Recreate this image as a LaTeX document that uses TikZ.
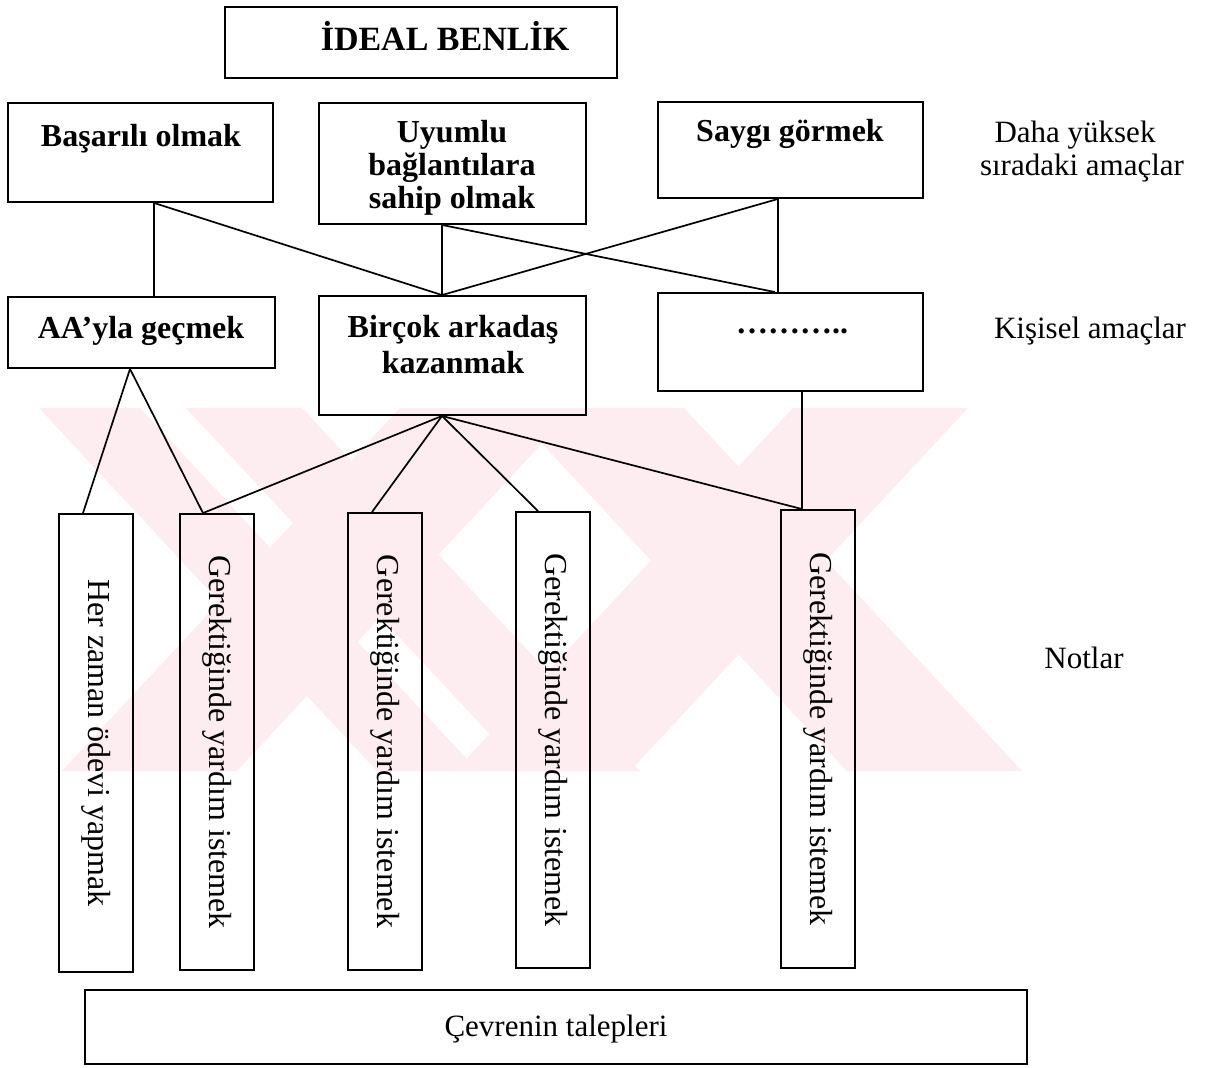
\documentclass[tikz,border=0pt]{standalone}
\usepackage{fontspec}
\setmainfont{Liberation Serif}
\usetikzlibrary{calc}
\definecolor{wmark}{RGB}{253,236,240}
\tikzset{
  box/.style={draw, line width=1.9pt, rectangle, inner sep=0pt},
  link/.style={draw, line width=1.7pt},
  btxt/.style={font=\fontsize{32}{34}\selectfont\bfseries, inner sep=0pt, anchor=base},
  rtxt/.style={font=\fontsize{31}{34}\selectfont, inner sep=0pt, anchor=base},
  vtxt/.style={font=\fontsize{32}{34}\selectfont, inner sep=0pt, rotate=-90},
}
\begin{document}
\begin{tikzpicture}[x=1pt,y=-1pt]
\useasboundingbox (0,0) rectangle (1206,1067);

% faint background emblem (crossing diagonal bands)
\begin{scope}
  \clip (39,408) -- (968,408) -- (1040,771) -- (39,771) -- cycle;
  \fill[wmark] (39,408) -- (140,408) -- (478,771) -- (377,771) -- cycle;
  \fill[wmark] (186,408) -- (302,408) -- (640,771) -- (524,771) -- cycle;
  \fill[wmark] (400,408) -- (575,408) -- (237,771) -- (62,771) -- cycle;
  \fill[wmark] (509,408) -- (684,408) -- (1022,771) -- (847,771) -- cycle;
  \fill[wmark] (793,408) -- (968,408) -- (630,771) -- (455,771) -- cycle;
\end{scope}

% boxes
\node[box, minimum width=392pt, minimum height=71pt] (ideal) at (421,42.5) {};
\node[box, minimum width=265pt, minimum height=99pt] (bas) at (140.5,152.5) {};
\node[box, minimum width=267pt, minimum height=121pt] (uyu) at (452.5,163.5) {};
\node[box, minimum width=265pt, minimum height=96pt] (say) at (790.5,150) {};
\node[box, minimum width=267pt, minimum height=71pt] (aa) at (141.5,332.5) {};
\node[box, minimum width=267pt, minimum height=119pt] (bir) at (452.5,355.5) {};
\node[box, minimum width=265pt, minimum height=98pt] (dots) at (790.5,342) {};
\node[box, minimum width=74pt, minimum height=458pt] (her) at (96,743) {};
\node[box, minimum width=74pt, minimum height=456pt] (g1) at (217,742) {};
\node[box, minimum width=74pt, minimum height=457pt] (g2) at (385,741.5) {};
\node[box, minimum width=74pt, minimum height=456pt] (g3) at (553,740) {};
\node[box, minimum width=74pt, minimum height=458pt] (g4) at (818,739) {};
\node[box, minimum width=942pt, minimum height=74pt] (cev) at (556,1027) {};

% box texts
\node[btxt, font=\fontsize{34}{36}\selectfont\bfseries] (idealT) at (445,51) {İDEAL BENLİK};
\node[btxt] (basT) at (141,147) {Başarılı olmak};
\node[btxt] (uyuT1) at (452,143) {Uyumlu};
\node[btxt] (uyuT2) at (452,176) {bağlantılara};
\node[btxt] (uyuT3) at (452,209) {sahip olmak};
\node[btxt] (sayT) at (790,142) {Saygı görmek};
\node[btxt] (aaT) at (141,338) {AA’yla geçmek};
\node[btxt] (birT1) at (453,337) {Birçok arkadaş};
\node[btxt] (birT2) at (453,373) {kazanmak};
\node[btxt] (dotsT) at (792,333) {………..};
\node[vtxt] (herT) at (her.center) {Her zaman ödevi yapmak};
\node[vtxt] (g1T) at (g1.center) {Gerektiğinde yardım istemek};
\node[vtxt] (g2T) at (g2.center) {Gerektiğinde yardım istemek};
\node[vtxt] (g3T) at (g3.center) {Gerektiğinde yardım istemek};
\node[vtxt] (g4T) at (g4.center) {Gerektiğinde yardım istemek};
\node[rtxt] (cevT) at (556,1036) {Çevrenin talepleri};

% level labels
\node[rtxt] (lab1a) at (1075,143) {Daha yüksek};
\node[rtxt] (lab1b) at (1082,176) {sıradaki amaçlar};
\node[rtxt] (lab2) at (1090,338) {Kişisel amaçlar};
\node[rtxt] (lab3) at (1084,668) {Notlar};

% connectors
\draw[link] ([xshift=13.5pt]bas.south) -- ([xshift=12.5pt]aa.north);
\draw[link] ([xshift=13.5pt]bas.south) -- ([xshift=-10.5pt]bir.north);
\draw[link] ([xshift=-10.5pt]uyu.south) -- ([xshift=-10.5pt]bir.north);
\draw[link] ([xshift=-10.5pt]uyu.south) -- ([xshift=-15.5pt]dots.north);
\draw[link] ([xshift=-12.5pt]say.south) -- ([xshift=-10.5pt]bir.north);
\draw[link] ([xshift=-12.5pt]say.south) -- ([xshift=-12.5pt]dots.north);
\draw[link] ([xshift=-11.5pt]aa.south) -- ([xshift=-13pt]her.north);
\draw[link] ([xshift=-11.5pt]aa.south) -- ([xshift=-14pt]g1.north);
\draw[link] ([xshift=-10.5pt]bir.south) -- ([xshift=-14pt]g1.north);
\draw[link] ([xshift=-10.5pt]bir.south) -- ([xshift=-13pt]g2.north);
\draw[link] ([xshift=-10.5pt]bir.south) -- ([xshift=-15pt]g3.north);
\draw[link] ([xshift=-10.5pt]bir.south) -- ([xshift=-16pt]g4.north);
\draw[link] ([xshift=11.5pt]dots.south) -- ([xshift=-16pt]g4.north);
\end{tikzpicture}
\end{document}
